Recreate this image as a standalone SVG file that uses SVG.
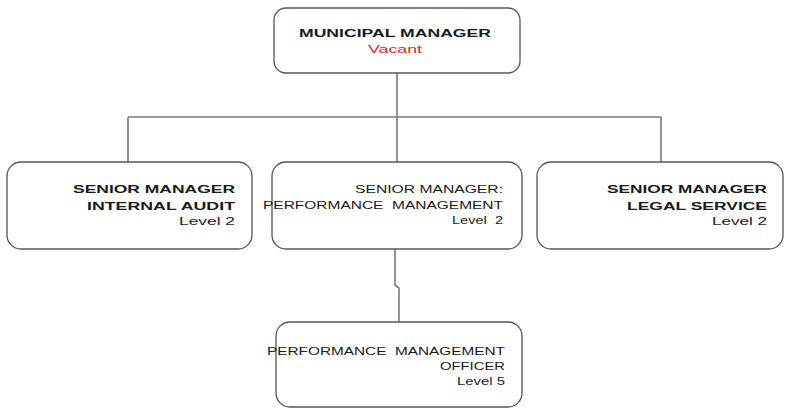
<svg xmlns="http://www.w3.org/2000/svg" width="785" height="409" viewBox="0 0 785 409">
  <style>
    .box { fill: #ffffff; stroke: #555555; stroke-width: 1.3; }
    .wire { fill: none; stroke: #7a7a7a; stroke-width: 1.6; }
    text { font-family: "Liberation Sans", Arial, sans-serif; fill: #1a1a1a; white-space: pre; }
    .b { font-weight: bold; font-size: 11.5px; }
    .r { font-size: 11.5px; }
    .red { fill: #e8212a; }
  </style>
  <rect width="785" height="409" fill="#ffffff"/>

  <g id="connectors">
    <path class="wire" d="M397 73 V117 M128 117 H661 M128 117 V162 M397 117 V162 M661 117 V162"/>
    <path class="wire" d="M395 249 V285 L399 288 V322"/>
  </g>

  <g id="municipal-manager">
    <rect class="box" x="274" y="8" width="246" height="65" rx="12"/>
    <text class="b" x="299" y="37" textLength="192" lengthAdjust="spacingAndGlyphs">MUNICIPAL MANAGER</text>
    <text class="r red" x="368" y="53" textLength="54" lengthAdjust="spacingAndGlyphs" font-size="12">Vacant</text>
  </g>

  <g id="sm-internal-audit">
    <rect class="box" x="7" y="162" width="245" height="87" rx="14"/>
    <text class="b" x="73" y="193" textLength="162" lengthAdjust="spacingAndGlyphs">SENIOR MANAGER</text>
    <text class="b" x="87" y="210" textLength="148" lengthAdjust="spacingAndGlyphs">INTERNAL AUDIT</text>
    <text class="r" x="179" y="225" textLength="56" lengthAdjust="spacingAndGlyphs">Level 2</text>
  </g>

  <g id="sm-performance-management">
    <rect class="box" x="272" y="162" width="250" height="87" rx="14"/>
    <text class="r" x="355" y="193" textLength="148" lengthAdjust="spacingAndGlyphs">SENIOR MANAGER:</text>
    <text class="r" x="263" y="209" textLength="240" lengthAdjust="spacingAndGlyphs">PERFORMANCE  MANAGEMENT</text>
    <text class="r" x="452" y="224" textLength="51" lengthAdjust="spacingAndGlyphs">Level  2</text>
  </g>

  <g id="sm-legal-service">
    <rect class="box" x="537" y="162" width="246" height="87" rx="14"/>
    <text class="b" x="607" y="193" textLength="160" lengthAdjust="spacingAndGlyphs">SENIOR MANAGER</text>
    <text class="b" x="627" y="210" textLength="140" lengthAdjust="spacingAndGlyphs">LEGAL SERVICE</text>
    <text class="r" x="712" y="225" textLength="55" lengthAdjust="spacingAndGlyphs">Level 2</text>
  </g>

  <g id="performance-management-officer">
    <rect class="box" x="276" y="322" width="246" height="85" rx="14"/>
    <text class="r" x="267" y="355" textLength="238" lengthAdjust="spacingAndGlyphs">PERFORMANCE  MANAGEMENT</text>
    <text class="r" x="440" y="370" textLength="65" lengthAdjust="spacingAndGlyphs">OFFICER</text>
    <text class="r" x="457" y="385" textLength="48" lengthAdjust="spacingAndGlyphs" font-size="10.5">Level 5</text>
  </g>
</svg>
